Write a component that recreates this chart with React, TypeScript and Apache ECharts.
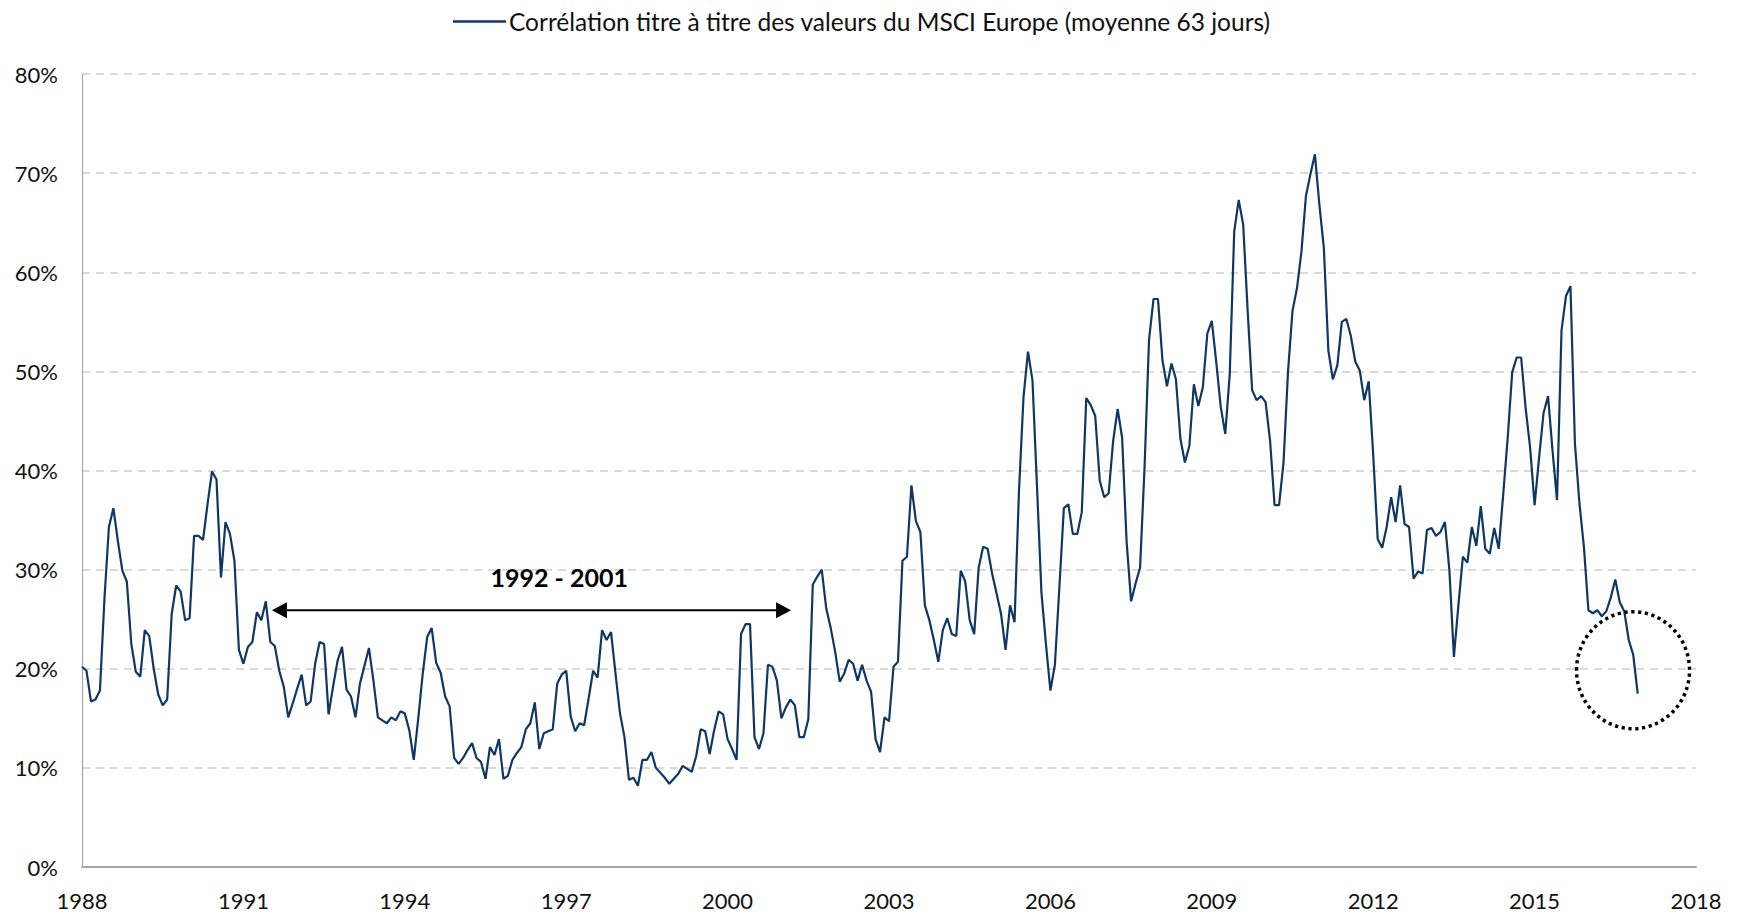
import React, { useEffect, useRef } from "react";
import * as echarts from "echarts";

const START_YEAR = 1988;
const X_MIN = 1988;
const X_MAX = 2018;
const X_STEP = 3;
const Y_MIN = 0;
const Y_MAX = 80;
const Y_STEP = 10;
const SERIES_NAME = "Corrélation titre à titre des valeurs du MSCI Europe (moyenne 63 jours)";
const PERIOD_LABEL = "1992 - 2001";

// monthly values (%), Jan 1988 -> Dec 2016
const corr = [
  20.2, 19.8, 16.7, 16.9, 17.8, 27.0, 34.3, 36.2, 32.9, 29.9, 28.8, 22.5,
  19.7, 19.2, 23.9, 23.3, 20.0, 17.4, 16.3, 16.9, 25.5, 28.4, 27.8, 24.9,
  25.1, 33.4, 33.4, 33.0, 36.6, 39.9, 39.1, 29.2, 34.8, 33.6, 30.9, 21.9,
  20.5, 22.2, 22.7, 25.7, 24.9, 26.8, 22.7, 22.3, 19.8, 18.2, 15.1, 16.5,
  18.0, 19.4, 16.3, 16.7, 20.5, 22.7, 22.5, 15.4, 18.2, 20.8, 22.2, 17.9,
  17.2, 15.1, 18.5, 20.3, 22.1, 18.8, 15.1, 14.8, 14.5, 15.1, 14.8, 15.7,
  15.5, 13.8, 10.8, 15.0, 19.5, 23.2, 24.1, 20.6, 19.6, 17.2, 16.2, 11.0,
  10.4, 11.0, 11.8, 12.5, 11.0, 10.6, 8.9, 12.1, 11.3, 12.9, 8.9, 9.2,
  10.8, 11.5, 12.1, 13.9, 14.5, 16.6, 11.9, 13.5, 13.7, 13.9, 18.5, 19.4,
  19.8, 15.2, 13.7, 14.5, 14.3, 17.0, 19.8, 19.1, 23.9, 22.9, 23.7, 19.5,
  15.5, 13.1, 8.8, 9.0, 8.2, 10.8, 10.8, 11.6, 10.0, 9.5, 9.0, 8.4,
  8.9, 9.4, 10.2, 9.9, 9.6, 11.2, 13.9, 13.7, 11.4, 13.8, 15.7, 15.4,
  12.9, 11.9, 10.8, 23.5, 24.5, 24.5, 13.1, 11.9, 13.5, 20.4, 20.2, 18.8,
  15.0, 16.1, 16.9, 16.3, 13.1, 13.1, 14.9, 28.5, 29.3, 30.0, 26.1, 24.1,
  21.7, 18.7, 19.5, 20.9, 20.5, 18.8, 20.4, 18.8, 17.7, 12.9, 11.6, 15.1,
  14.7, 20.2, 20.7, 30.9, 31.3, 38.5, 34.9, 33.8, 26.4, 24.9, 22.9, 20.7,
  23.9, 25.1, 23.5, 23.3, 29.9, 28.8, 24.9, 23.5, 30.2, 32.3, 32.1, 29.6,
  27.6, 25.5, 21.9, 26.4, 24.7, 38.0, 47.4, 52.0, 49.1, 38.5, 27.7, 22.5,
  17.8, 20.4, 28.2, 36.2, 36.6, 33.6, 33.6, 35.8, 47.3, 46.6, 45.5, 39.0,
  37.3, 37.7, 43.0, 46.2, 43.3, 32.8, 26.8, 28.6, 30.2, 40.3, 53.2, 57.3,
  57.3, 51.1, 48.5, 50.8, 49.2, 43.2, 40.8, 42.5, 48.7, 46.5, 48.4, 53.8,
  55.1, 50.9, 46.4, 43.7, 49.7, 64.1, 67.3, 64.8, 56.1, 48.1, 47.1, 47.5,
  46.9, 43.0, 36.5, 36.5, 40.8, 50.0, 56.1, 58.4, 62.1, 67.7, 69.9, 71.9,
  66.8, 62.4, 52.1, 49.2, 50.6, 55.0, 55.3, 53.6, 51.0, 50.1, 47.1, 49.0,
  41.6, 33.1, 32.2, 34.3, 37.3, 34.8, 38.5, 34.6, 34.3, 29.1, 29.8, 29.6,
  34.0, 34.2, 33.4, 33.8, 34.8, 29.9, 21.2, 26.4, 31.3, 30.7, 34.3, 32.4,
  36.4, 32.1, 31.6, 34.2, 32.1, 37.6, 43.3, 49.9, 51.4, 51.4, 46.3, 42.3,
  36.5, 41.3, 45.8, 47.5, 42.0, 37.0, 54.1, 57.6, 58.6, 42.7, 36.7, 32.3,
  25.9, 25.6, 25.9, 25.3, 25.8, 27.2, 29.0, 26.7, 25.8, 22.9, 21.4, 17.5,
];

// annotation anchors in data space (year, %)
const ARROW_FROM = [1991.53, 25.9];
const ARROW_TO = [2001.18, 25.9];
const PERIOD_LABEL_AT = [1996.87, 29.25];
const CIRCLE_CENTER = [2016.83, 19.85];

const FONT = "Lato, 'Open Sans', sans-serif";
const LINE_COLOR = "#0f3764";
const TEXT_COLOR = "#111111";

export default function App() {
  const ref = useRef<HTMLDivElement>(null);

  useEffect(() => {
    document.body.style.margin = "0";
    if (!ref.current) return;
    const chart = echarts.init(ref.current, null, { renderer: "svg" });
    const data = corr.map((v, i) => [START_YEAR + i / 12, v]);

    chart.setOption({
      animation: false,
      backgroundColor: "#ffffff",
      textStyle: { fontFamily: FONT },
      grid: { left: 82, right: 46, top: 74, bottom: 50, containLabel: false },
      legend: {
        show: true,
        left: 448,
        top: 4,
        icon: "rect",
        itemWidth: 53,
        itemHeight: 2.5,
        textStyle: { fontFamily: FONT, fontSize: 24.5, color: TEXT_COLOR, padding: [0, 0, 0, -2] },
        data: [SERIES_NAME],
      },
      xAxis: {
        type: "value",
        min: X_MIN,
        max: X_MAX,
        interval: X_STEP,
        axisLine: { show: true, lineStyle: { color: "#a6a6a6", width: 2 } },
        axisTick: { show: false },
        splitLine: { show: false },
        axisLabel: {
          margin: 22,
          fontFamily: FONT,
          fontSize: 22,
          color: TEXT_COLOR,
          formatter: (v: number) => String(v),
        },
      },
      yAxis: {
        type: "value",
        min: Y_MIN,
        max: Y_MAX,
        interval: Y_STEP,
        axisLine: { show: true, lineStyle: { color: "#a6a6a6", width: 1.2 } },
        axisTick: { show: false },
        splitLine: {
          show: true,
          lineStyle: { color: "#d9d9d9", width: 2, type: [8, 6] },
        },
        axisLabel: {
          margin: 24,
          fontFamily: FONT,
          fontSize: 22,
          color: TEXT_COLOR,
          formatter: (v: number) => v + "%",
        },
      },
      series: [
        {
          name: SERIES_NAME,
          type: "line",
          data,
          showSymbol: false,
          symbol: "none",
          lineStyle: { color: LINE_COLOR, width: 2.2 },
          itemStyle: { color: LINE_COLOR },
          z: 3,
        },
      ],
    });

    const a = chart.convertToPixel({ gridIndex: 0 }, ARROW_FROM) as number[];
    const b = chart.convertToPixel({ gridIndex: 0 }, ARROW_TO) as number[];
    const t = chart.convertToPixel({ gridIndex: 0 }, PERIOD_LABEL_AT) as number[];
    const c = chart.convertToPixel({ gridIndex: 0 }, CIRCLE_CENTER) as number[];
    const headL = 15;
    const headW = 8;

    chart.setOption({
      graphic: [
        {
          type: "line",
          shape: { x1: a[0] + headL - 1, y1: a[1], x2: b[0] - headL + 1, y2: b[1] },
          style: { stroke: "#000", lineWidth: 2 },
          z: 10,
        },
        {
          type: "polygon",
          shape: { points: [[a[0], a[1]], [a[0] + headL, a[1] - headW], [a[0] + headL, a[1] + headW]] },
          style: { fill: "#000" },
          z: 10,
        },
        {
          type: "polygon",
          shape: { points: [[b[0], b[1]], [b[0] - headL, b[1] - headW], [b[0] - headL, b[1] + headW]] },
          style: { fill: "#000" },
          z: 10,
        },
        {
          type: "text",
          x: t[0],
          y: t[1],
          style: {
            text: PERIOD_LABEL,
            fontFamily: FONT,
            fontSize: 25,
            fontWeight: "bold",
            fill: "#000",
            align: "center",
            verticalAlign: "middle",
          },
          z: 10,
        },
        {
          type: "ellipse",
          shape: { cx: c[0], cy: c[1], rx: 56.5, ry: 58.5 },
          style: { fill: "none", stroke: "#000", lineWidth: 3.5, lineDash: [3.2, 3.6] },
          z: 10,
        },
      ],
    });

    return () => chart.dispose();
  }, []);

  return <div ref={ref} style={{ width: 1742, height: 917 }} />;
}
